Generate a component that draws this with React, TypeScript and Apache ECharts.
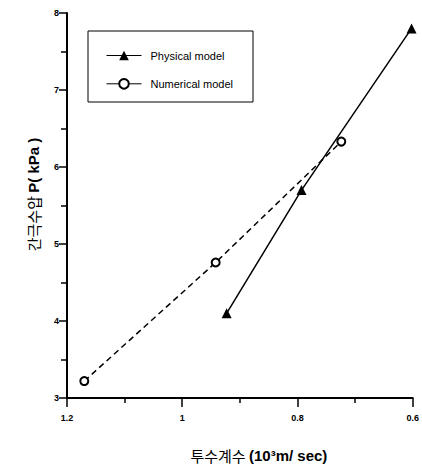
import React, { useEffect, useRef } from "react";
import * as echarts from "echarts";

const physicalX = [0.923, 0.793, 0.602];
const physicalY = [4.1, 5.7, 7.8];
const numericalX = [1.17, 0.942, 0.724];
const numericalY = [3.22, 4.76, 6.33];
const seriesNames = ["Physical model", "Numerical model"];
const xTicks = [0.6, 0.8, 1.0, 1.2];
const yTicks = [3, 4, 5, 6, 7, 8];

const FONT = "'Liberation Sans', Arial, 'Noto Sans CJK KR', sans-serif";

export default function App() {
  const ref = useRef<HTMLDivElement>(null);
  useEffect(() => {
    if (!ref.current) return;
    const chart = echarts.init(ref.current, undefined, { renderer: "svg" });
    const pts = (xs: number[], ys: number[]) => xs.map((x, i) => [x, ys[i]]);
    chart.setOption({
      animation: false,
      backgroundColor: "#fff",
      grid: { left: 67, right: 9, top: 13, bottom: 70, containLabel: false },
      legend: {
        orient: "vertical",
        left: 101,
        top: 45,
        itemWidth: 35,
        itemHeight: 12,
        itemGap: 17,
        data: seriesNames,
        lineStyle: { type: "solid", width: 1 },
        textStyle: {
          fontFamily: FONT,
          fontSize: 11,
          color: "#000",
          padding: [0, 0, 0, 4],
        },
      },
      graphic: [
        {
          type: "rect",
          shape: { x: 88, y: 31, width: 165, height: 71 },
          style: { fill: "none", stroke: "#000", lineWidth: 1 },
          z: 10,
        },
      ],
      xAxis: {
        type: "value",
        inverse: true,
        min: xTicks[0],
        max: xTicks[xTicks.length - 1],
        interval: 0.2,
        name: "{k|투수계수} {b|(10³m/ sec)}",
        nameLocation: "middle",
        nameGap: 50,
        nameTextStyle: {
          padding: [0, 0, 0, 38],
          rich: {
            k: { fontFamily: "'Noto Sans CJK KR'", fontSize: 15, color: "#000" },
            b: { fontFamily: FONT, fontSize: 15, fontWeight: "bold", color: "#000" },
          },
        },
        axisLine: { show: true, lineStyle: { color: "#000", width: 2 } },
        axisTick: { show: true, inside: false, length: 9, lineStyle: { color: "#000", width: 1.5 } },
        minorTick: { show: true, splitNumber: 2, length: 5, lineStyle: { color: "#000", width: 1.5 } },
        axisLabel: {
          margin: 15,
          fontFamily: FONT,
          fontSize: 9,
          fontWeight: "bold",
          color: "#000",
          formatter: (v: number) => String(parseFloat(v.toFixed(2))),
        },
        splitLine: { show: false },
      },
      yAxis: {
        type: "value",
        min: yTicks[0],
        max: yTicks[yTicks.length - 1],
        interval: 1,
        name: "{k|간극수압} {b|P( kPa )}",
        nameLocation: "middle",
        nameGap: 26,
        nameRotate: 90,
        nameTextStyle: {
          padding: [0, 0, 0, 22],
          rich: {
            k: { fontFamily: "'Noto Sans CJK KR'", fontSize: 15, color: "#000" },
            b: { fontFamily: FONT, fontSize: 15, fontWeight: "bold", color: "#000" },
          },
        },
        axisLine: { show: true, lineStyle: { color: "#000", width: 2 } },
        axisTick: { show: true, inside: false, length: 8, lineStyle: { color: "#000", width: 1.5 } },
        minorTick: { show: true, splitNumber: 2, length: 6, lineStyle: { color: "#000", width: 1.5 } },
        axisLabel: {
          margin: 8,
          fontFamily: FONT,
          fontSize: 9,
          fontWeight: "bold",
          color: "#000",
        },
        splitLine: { show: false },
      },
      series: [
        {
          name: seriesNames[0],
          type: "line",
          data: pts(physicalX, physicalY),
          symbol: "triangle",
          symbolSize: 10,
          itemStyle: { color: "#000" },
          lineStyle: { color: "#000", width: 1.5, type: "solid" },
        },
        {
          name: seriesNames[1],
          type: "line",
          data: pts(numericalX, numericalY),
          symbol: "circle",
          symbolSize: 8,
          itemStyle: { color: "#fff", borderColor: "#000", borderWidth: 2 },
          lineStyle: { color: "#000", width: 1.5, type: [6, 4] },
        },
      ],
    });
    return () => chart.dispose();
  }, []);
  return <div ref={ref} style={{ width: 422, height: 468, position: "absolute", left: 0, top: 0 }} />;
}
